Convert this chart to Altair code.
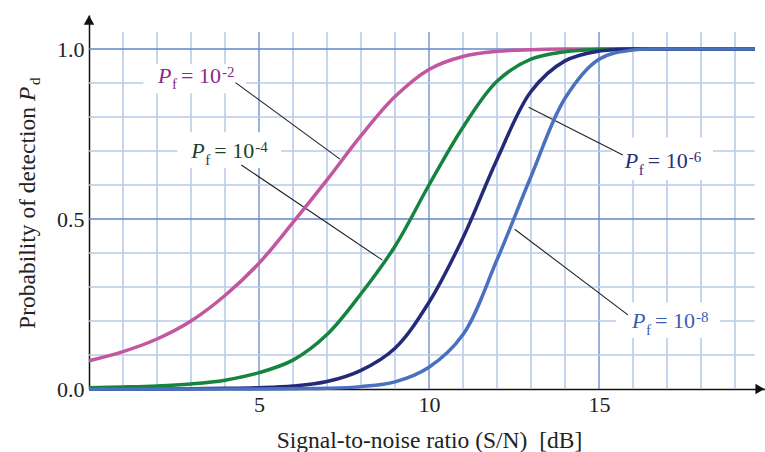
import altair as alt
import pandas as pd

# ---------------- data ----------------
snr = [0, 1, 2, 3, 4, 5, 6, 7, 8, 9, 10, 11, 12, 13, 14, 15, 16, 17, 18, 19, 19.58]
pd_1e2 = [0.083, 0.110, 0.147, 0.200, 0.275, 0.370, 0.490, 0.615, 0.745, 0.860, 0.940,
          0.978, 0.993, 0.998, 1.0, 1.0, 1.0, 1.0, 1.0, 1.0, 1.0]
pd_1e4 = [0.004, 0.006, 0.009, 0.015, 0.026, 0.048, 0.085, 0.160, 0.280, 0.420, 0.600,
          0.770, 0.905, 0.970, 0.992, 0.999, 1.0, 1.0, 1.0, 1.0, 1.0]
pd_1e6 = [0.0, 0.0, 0.0, 0.001, 0.002, 0.004, 0.009, 0.022, 0.055, 0.120, 0.255,
          0.445, 0.675, 0.875, 0.965, 0.994, 1.0, 1.0, 1.0, 1.0, 1.0]
pd_1e8 = [0.0, 0.0, 0.0, 0.0, 0.0, 0.0, 0.001, 0.002, 0.007, 0.021, 0.064,
          0.160, 0.380, 0.625, 0.855, 0.970, 0.997, 1.0, 1.0, 1.0, 1.0]
series_values = [pd_1e2, pd_1e4, pd_1e6, pd_1e8]
series_colors = ["#c257a0", "#15843f", "#242a78", "#4a70c0"]

x_ticks = [5, 10, 15]
y_ticks = [0.0, 0.5, 1.0]
grid_x = list(range(1, 20))
grid_x_major = [5, 10, 15]
grid_y = [0.1, 0.2, 0.3, 0.4, 0.5, 0.6, 0.7, 0.8, 0.9, 1.0]
grid_y_major = [0.5, 1.0]

label_exp = ["-2", "-4", "-6", "-8"]
label_colors = ["#8a2c86", "#1f3f2a", "#2a2d7c", "#3a5db5"]
label_x = [2.03, 3.01, 15.76, 15.97]
label_y = [0.901, 0.679, 0.649, 0.178]
box_x1 = [1.60, 2.60, 15.37, 15.50]
box_x2 = [4.62, 5.65, 18.35, 18.55]
box_y1 = [0.870, 0.650, 0.615, 0.150]
box_y2 = [0.955, 0.755, 0.740, 0.255]
leader_x1 = [4.31, 4.48, 12.93, 12.52]
leader_y1 = [0.901, 0.659, 0.829, 0.470]
leader_x2 = [7.38, 8.63, 15.70, 15.85]
leader_y2 = [0.676, 0.379, 0.688, 0.218]

x_title = "Signal-to-noise ratio (S/N)\u00a0 [dB]"
y_title_main = "Probability of detection"

# ---------------- styling ----------------
FONT = "Liberation Serif"
TXT = "#222222"
MINOR = "#b9cbea"
MAJOR = "#6486cb"

XSCALE = alt.Scale(domain=[0, 19.882], nice=False, zero=False)
YSCALE = alt.Scale(domain=[0, 1.1], nice=False, zero=False)
XAXIS = alt.Axis(values=x_ticks, format="d", labelPadding=5, title=x_title,
                 titleFont=FONT, titleFontSize=23.5, titleFontWeight="normal",
                 titleColor=TXT, titleBaseline="alphabetic", titleY=58, titleX=340)
YAXIS = alt.Axis(values=y_ticks, format=".1f", labelPadding=5, title=None)


def X(f):
    return alt.X(f, type="quantitative", scale=XSCALE, axis=XAXIS)


def Y(f):
    return alt.Y(f, type="quantitative", scale=YSCALE, axis=YAXIS)


layers = []

# grid
vgrid = pd.DataFrame({"x": grid_x, "y": 0.0, "y2": 1.05,
                      "major": [g in grid_x_major for g in grid_x]})
hgrid = pd.DataFrame({"y": grid_y, "x": 0.0, "x2": 19.58,
                      "major": [g in grid_y_major for g in grid_y]})
for df in (vgrid, hgrid):
    for is_major in (False, True):
        sub = df[df["major"] == is_major]
        enc = dict(x=X("x"), y=Y("y"))
        if "y2" in sub:
            enc["y2"] = alt.Y2("y2")
        else:
            enc["x2"] = alt.X2("x2")
        layers.append(alt.Chart(sub).mark_rule(
            color=MAJOR if is_major else MINOR,
            strokeWidth=1.3 if is_major else 1.6).encode(**enc))

# white boxes behind labels
boxes = pd.DataFrame({"x": box_x1, "x2": box_x2, "y": box_y1, "y2": box_y2})
layers.append(alt.Chart(boxes).mark_rect(color="white").encode(
    x=X("x"), x2=alt.X2("x2"), y=Y("y"), y2=alt.Y2("y2")))

# leader lines
leaders = pd.DataFrame({"x": leader_x1, "y": leader_y1, "x2": leader_x2, "y2": leader_y2})
layers.append(alt.Chart(leaders).mark_rule(color="#222222", strokeWidth=1.1).encode(
    x=X("x"), y=Y("y"), x2=alt.X2("x2"), y2=alt.Y2("y2")))

# curves
for vals, col in zip(series_values, series_colors):
    df = pd.DataFrame({"snr": snr, "pd": vals})
    layers.append(alt.Chart(df).mark_line(color=col, strokeWidth=3.5,
                                          interpolate="catmull-rom").encode(
        x=X("snr"), y=Y("pd")))

# curve labels  P_f = 10^exp
labels = pd.DataFrame({"x": label_x, "y": label_y, "exp": label_exp, "color": label_colors})
base = alt.Chart(labels)
common = dict(x=X("x"), y=Y("y"), color=alt.Color("color:N", scale=None))
layers.append(base.mark_text(font=FONT, fontSize=22, fontStyle="italic", align="left",
                             baseline="alphabetic", text="P").encode(**common))
layers.append(base.mark_text(font=FONT, fontSize=15, align="left", baseline="alphabetic",
                             dx=14, dy=6.5, text="f").encode(**common))
layers.append(base.mark_text(font=FONT, fontSize=22, align="left", baseline="alphabetic",
                             dx=23, text="= 10").encode(**common))
layers.append(base.mark_text(font=FONT, fontSize=15, align="left", baseline="alphabetic",
                             dx=64, dy=-6).encode(text="exp:N", **common))

# axis arrowheads
arrows_up = pd.DataFrame({"x": [0.0], "y": [1.085]})
arrows_right = pd.DataFrame({"x": [19.735], "y": [0.0]})
layers.append(alt.Chart(arrows_up).mark_point(shape="triangle-up", filled=True, size=110,
                                              color="#111111", opacity=1).encode(x=X("x"), y=Y("y")))
layers.append(alt.Chart(arrows_right).mark_point(shape="triangle-right", filled=True, size=110,
                                                 color="#111111", opacity=1).encode(x=X("x"), y=Y("y")))

# y-axis title pieces (rotated)
ttl = pd.DataFrame({"t": [y_title_main]})
layers.append(alt.Chart(ttl).mark_text(font=FONT, fontSize=23.5, angle=270, align="right",
                                       baseline="alphabetic", color=TXT).encode(
    text="t:N", x=alt.value(-54), y=alt.value(92)))
layers.append(alt.Chart(ttl).mark_text(font=FONT, fontSize=23.5, angle=270, align="left",
                                       baseline="alphabetic", fontStyle="italic", color=TXT,
                                       text="P").encode(x=alt.value(-54), y=alt.value(86)))
layers.append(alt.Chart(ttl).mark_text(font=FONT, fontSize=15, angle=270, align="left",
                                       baseline="alphabetic", color=TXT,
                                       text="d").encode(x=alt.value(-49), y=alt.value(70)))

chart = alt.layer(*layers).properties(
    width=676, height=374,
    padding={"left": 89, "top": 15, "right": 0, "bottom": 63},
    autosize=alt.AutoSizeParams(type="none"),
    background="white",
).configure_view(stroke=None).configure_axis(
    labelFont=FONT, labelFontSize=22, labelColor=TXT, domainColor="#111111",
    domainWidth=1.5, ticks=False, grid=False,
)

chart.save("out.html", embed_options={"renderer": "svg", "actions": False})
